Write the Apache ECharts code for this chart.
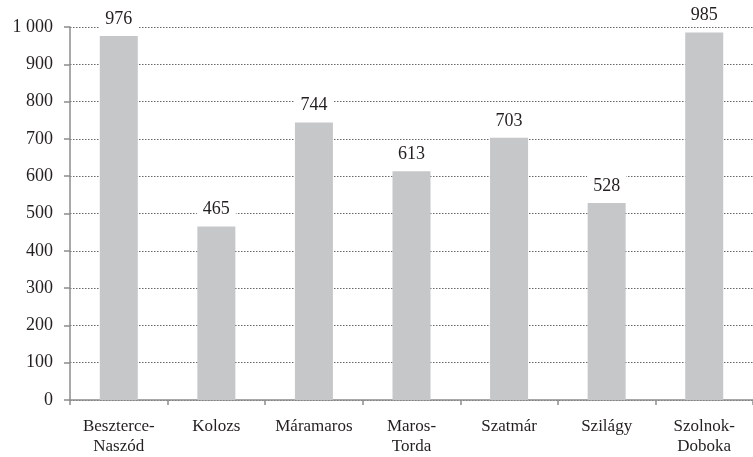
<!DOCTYPE html>
<html>
<head>
<meta charset="utf-8">
<script src="https://cdn.jsdelivr.net/npm/echarts@6/dist/echarts.min.js"></script>
<style>
    html, body { margin: 0; padding: 0; background: #fff; }
    #chart { width: 753px; height: 457px; }
</style>
</head>
<body>
<div id="chart"></div>
<script>
var categories = ["Beszterce-\nNaszód", "Kolozs", "Máramaros", "Maros-\nTorda", "Szatmár", "Szilágy", "Szolnok-\nDoboka"];
var values = [976, 465, 744, 613, 703, 528, 985];
var yTicks = [0, 100, 200, 300, 400, 500, 600, 700, 800, 900, 1000];

var serif = 'Liberation Serif';

var myChart = echarts.init(document.getElementById('chart'));
var option = {
    animation: false,
    textStyle: { fontFamily: serif },
    grid: { left: 70, right: 0, top: 27, bottom: 57 },
    xAxis: {
        type: 'category',
        data: categories,
        boundaryGap: true,
        axisLine: { lineStyle: { color: '#8c8c8c', width: 1.5 } },
        axisTick: { show: true, length: 5, lineStyle: { color: '#8c8c8c', width: 1.5 } },
        axisLabel: { color: '#231f20', fontFamily: serif, fontSize: 17, lineHeight: 20, margin: 17, interval: 0 }
    },
    yAxis: {
        type: 'value',
        min: yTicks[0],
        max: yTicks[yTicks.length - 1],
        interval: 100,
        axisLine: { show: true, lineStyle: { color: '#8c8c8c', width: 1.5 } },
        axisTick: { show: true, length: 6, lineStyle: { color: '#8c8c8c', width: 1.5 } },
        axisLabel: {
            color: '#231f20', fontFamily: serif, fontSize: 18, margin: 17,
            formatter: function (v) { return v >= 1000 ? '1 000' : String(v); }
        },
        splitLine: { show: true, lineStyle: { color: '#666', type: [1.5, 1.5], width: 1 } }
    },
    series: [
        {
            type: 'bar',
            data: values,
            barWidth: 38,
            itemStyle: { color: '#c6c7c9' },
            label: {
                show: true,
                position: 'top',
                distance: 6,
                color: '#231f20',
                fontFamily: serif,
                fontSize: 18,
                backgroundColor: '#fff',
                padding: [2, 6]
            }
        }
    ]
};
myChart.setOption(option);
</script>
</body>
</html>
